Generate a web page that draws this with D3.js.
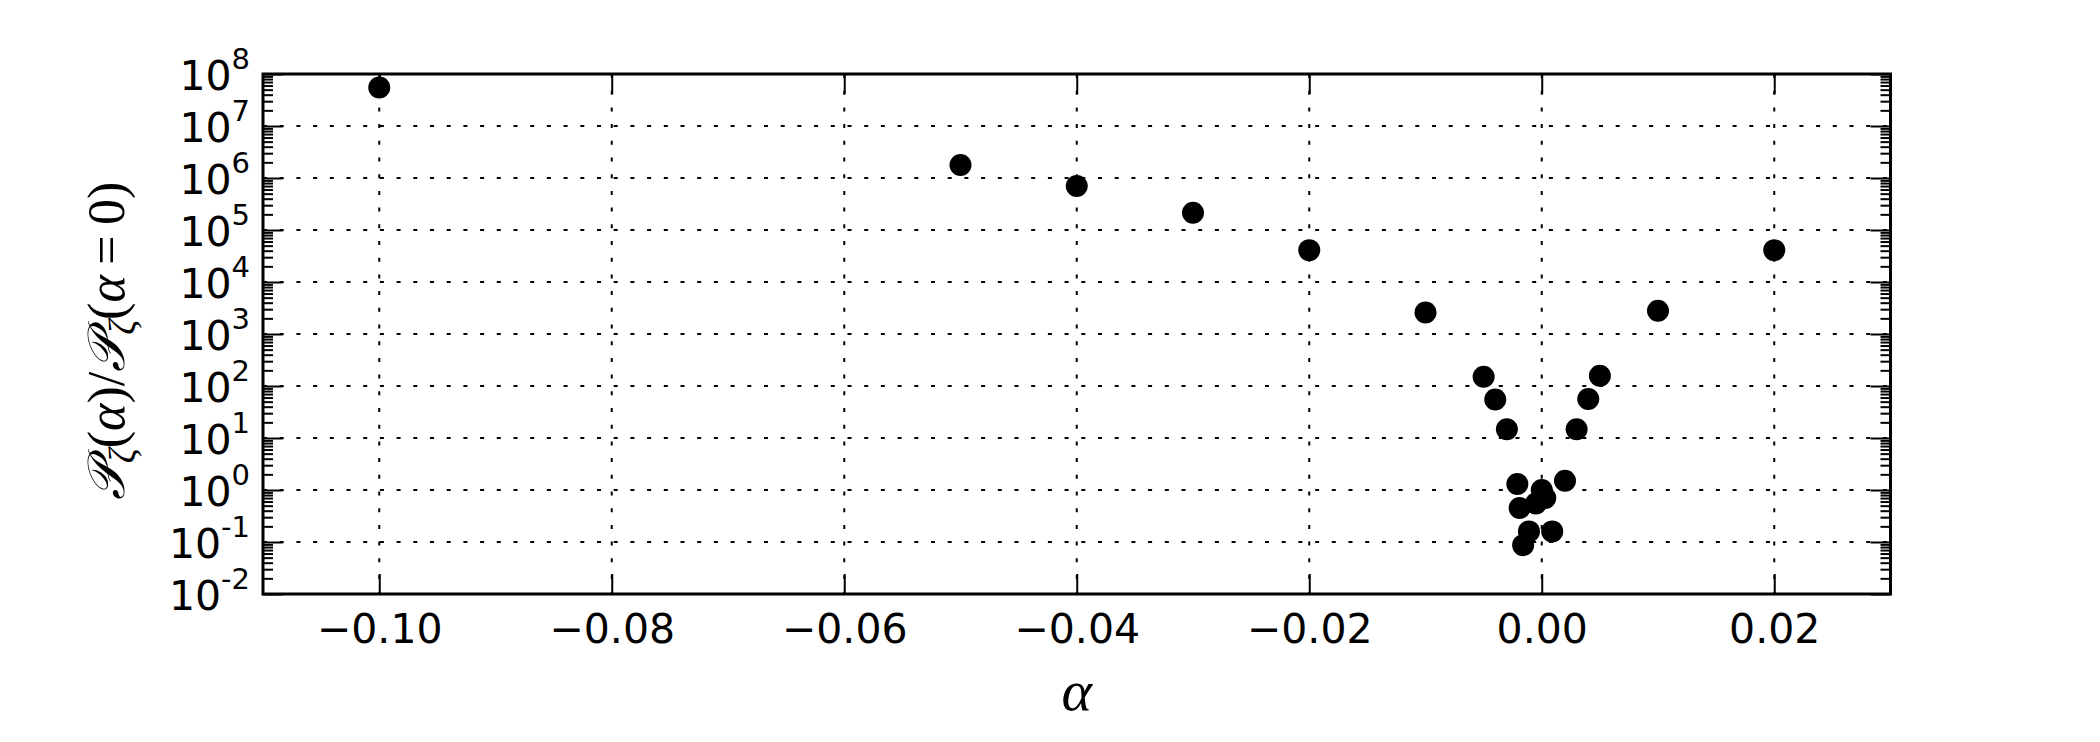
<!DOCTYPE html>
<html>
<head>
<meta charset="utf-8">
<script src="https://cdn.jsdelivr.net/npm/d3@7"></script>
<style>
  html, body { margin: 0; padding: 0; background: #fff; }
  svg { display: block; }
</style>
</head>
<body>
<svg id="chart" width="2100" height="742"></svg>
<script>
// ---- data ----
const alphaValues = [-0.10, -0.05, -0.04, -0.03, -0.02, -0.01, -0.005, -0.004, -0.003,
  -0.0021, -0.0019, -0.0016, -0.0011, -0.0005, 0.0, 0.0003, 0.0009,
  0.002, 0.003, 0.004, 0.005, 0.01, 0.02];
const ratioValues = [5.5e7, 1.78e6, 7.0e5, 2.15e5, 4.1e4, 2.6e3, 150, 55, 14.7,
  1.3, 0.45, 0.087, 0.16, 0.55, 1.0, 0.7, 0.16,
  1.5, 14.7, 56, 158, 2.8e3, 4.1e4];
const xTicks = [-0.10, -0.08, -0.06, -0.04, -0.02, 0.00, 0.02];
const xTickLabels = ["\u22120.10", "\u22120.08", "\u22120.06", "\u22120.04", "\u22120.02", "0.00", "0.02"];
const yExponents = [-2, -1, 0, 1, 2, 3, 4, 5, 6, 7, 8];
const yTickExpLabels = ["-2", "-1", "0", "1", "2", "3", "4", "5", "6", "7", "8"];
const xDomain = [-0.11, 0.03];
const yDomain = [1e-2, 1e8];

// ---- layout ----
const L = 263, R = 1890.5, T = 74, B = 594;
const svg = d3.select("#chart");
svg.append("rect").attr("width", 2100).attr("height", 742).attr("fill", "#fff");

const x = d3.scaleLinear().domain(xDomain).range([L, R]);
const y = d3.scaleLog().domain(yDomain).range([B, T]);

const yMajor = yExponents.map(e => Math.pow(10, e));
const yMinor = [];
yExponents.slice(0, -1).forEach(e => { for (let k = 2; k <= 9; k++) yMinor.push(k * Math.pow(10, e)); });

// grid
const grid = svg.append("g").attr("stroke", "#000").attr("stroke-width", 2)
  .attr("stroke-dasharray", "4,12.7").attr("fill", "none");
grid.selectAll("line.vx").data(xTicks).join("line")
  .attr("x1", d => x(d)).attr("x2", d => x(d)).attr("y1", T).attr("y2", B);
grid.selectAll("line.hy").data(yMajor.filter(v => v > yDomain[0] && v < yDomain[1])).join("line")
  .attr("y1", d => y(d)).attr("y2", d => y(d)).attr("x1", L).attr("x2", R);

// axes (ticks inward)
const tickStyle = g => { g.select(".domain").remove(); g.selectAll(".tick line").attr("stroke", "#000").attr("stroke-width", 2); };

svg.append("g").attr("transform", `translate(0,${B})`)
  .call(d3.axisBottom(x).tickValues(xTicks).tickSizeInner(-20).tickSizeOuter(0).tickPadding(20)
    .tickFormat((d, i) => xTickLabels[i]))
  .call(tickStyle)
  .call(g => g.selectAll(".tick text").attr("font-family", "DejaVu Sans").attr("font-size", 41).attr("fill", "#000"));

svg.append("g").attr("transform", `translate(0,${T})`)
  .call(d3.axisTop(x).tickValues(xTicks).tickSizeInner(-20).tickSizeOuter(0).tickFormat(""))
  .call(tickStyle);

svg.append("g").attr("transform", `translate(${L},0)`)
  .call(d3.axisLeft(y).tickValues(yMajor).tickSizeInner(-20).tickSizeOuter(0).tickFormat(""))
  .call(tickStyle);
svg.append("g").attr("transform", `translate(${L},0)`)
  .call(d3.axisLeft(y).tickValues(yMinor).tickSizeInner(-10).tickSizeOuter(0).tickFormat(""))
  .call(tickStyle);
svg.append("g").attr("transform", `translate(${R},0)`)
  .call(d3.axisRight(y).tickValues(yMajor).tickSizeInner(-20).tickSizeOuter(0).tickFormat(""))
  .call(tickStyle);
svg.append("g").attr("transform", `translate(${R},0)`)
  .call(d3.axisRight(y).tickValues(yMinor).tickSizeInner(-10).tickSizeOuter(0).tickFormat(""))
  .call(tickStyle);

// y tick labels: 10^e
const yl = svg.append("g").attr("font-family", "DejaVu Sans").attr("fill", "#000");
yExponents.forEach((e, i) => {
  const t = yl.append("text").attr("x", 250).attr("y", y(Math.pow(10, e)) + 16)
    .attr("text-anchor", "end").attr("font-size", 41);
  t.append("tspan").text("10");
  t.append("tspan").attr("font-size", 29).attr("dy", -21).text(yTickExpLabels[i]);
});

// frame
svg.append("rect").attr("x", L).attr("y", T).attr("width", R - L).attr("height", B - T)
  .attr("fill", "none").attr("stroke", "#000").attr("stroke-width", 3);

// points
svg.append("g").selectAll("circle").data(alphaValues.map((a, i) => [a, ratioValues[i]])).join("circle")
  .attr("cx", d => x(d[0])).attr("cy", d => y(d[1])).attr("r", 11).attr("fill", "#000");

// x label
svg.append("text").attr("x", (L + R) / 2).attr("y", 710).attr("text-anchor", "middle")
  .attr("font-family", "Liberation Serif").attr("font-style", "italic").attr("font-size", 58)
  .text("\u03B1");

// y label
const ylab = svg.append("text").attr("transform", `translate(124,341) rotate(-90)`)
  .attr("text-anchor", "middle").attr("font-family", "Liberation Serif").attr("font-size", 52).attr("fill", "#000");
const addP = () => {
  ylab.append("tspan").attr("font-family", "DejaVu Serif, DejaVu Sans, Liberation Serif").attr("font-style", "italic").text("\uD835\uDCAB");
  ylab.append("tspan").attr("font-style", "italic").attr("font-size", 37).attr("dy", 11).text("\u03B6");
  ylab.append("tspan").attr("dy", -11).text("(");
};
addP();
ylab.append("tspan").attr("font-style", "italic").text("\u03B1");
ylab.append("tspan").text(")/");
addP();
ylab.append("tspan").attr("font-style", "italic").text("\u03B1");
ylab.append("tspan").text("\u2009=\u20090)");
</script>
</body>
</html>
